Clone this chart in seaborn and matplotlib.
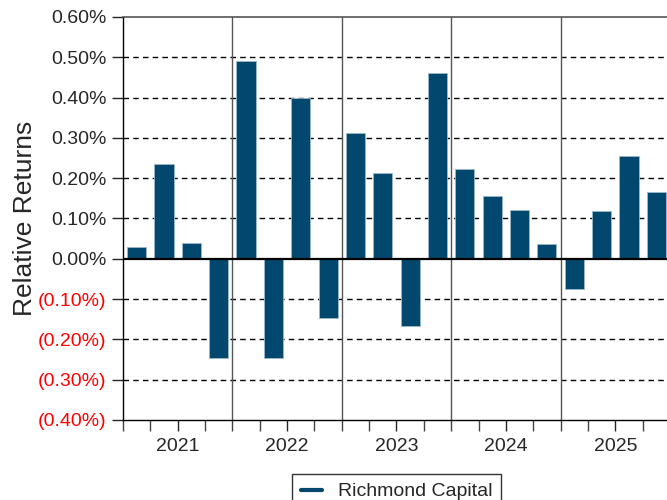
import numpy as np
import pandas as pd
import matplotlib
matplotlib.use("Agg")
import matplotlib.pyplot as plt
from matplotlib.lines import Line2D
from matplotlib.ticker import FuncFormatter
import seaborn as sns

years = ["2021", "2022", "2023", "2024", "2025"]
quarters = ["Q1", "Q2", "Q3", "Q4"]
returns_pct = [
    0.030, 0.235, 0.038, -0.245,
    0.492, -0.246, 0.400, -0.146,
    0.312, 0.213, -0.166, 0.461,
    0.223, 0.155, 0.122, 0.037,
    -0.074, 0.118, 0.255, 0.165,
]
series_name = "Richmond Capital"
bar_color = "#02476d"

periods = [f"{y} {q}" for y in years for q in quarters]
df = pd.DataFrame({"period": periods, "ret": returns_pct})

sns.set_style("ticks")
plt.rcParams["font.family"] = ["Liberation Sans", "DejaVu Sans"]

fig = plt.figure(figsize=(6.67, 5.0), dpi=100)
ax = fig.add_axes([0.1844, 0.16, 0.8201, 0.806])

sns.barplot(data=df, x="period", y="ret", order=periods, color=bar_color,
            saturation=1, width=0.7, edgecolor="#9db8cc", linewidth=0.6, ax=ax, zorder=3)

n = len(periods)
ax.set_xlim(-0.5, n - 0.5)
ax.set_ylim(-0.4, 0.6)

# grid + zero line
yt = np.round(np.arange(-0.4, 0.61, 0.1), 2)
ax.set_yticks(yt)
for v in yt:
    if abs(v) < 1e-9 or v in (-0.4, 0.6):
        continue
    ax.axhline(v, color="black", lw=1.0, ls=(0, (4, 3)), zorder=1)
ax.axhline(0, color="black", lw=1.6, zorder=4)

# year separators
for k in range(1, len(years)):
    ax.axvline(4 * k - 0.5, color="#555555", lw=1.0, zorder=2)

def fmt(v, _):
    if v < -1e-6:
        return f"({abs(v):.2f}%)"
    return f"{abs(v):.2f}%" if abs(v) < 1e-6 else f"{v:.2f}%"

ax.yaxis.set_major_formatter(FuncFormatter(fmt))
ax.tick_params(axis="y", labelsize=14, length=8, width=1, direction="out", pad=4)
for lab, v in zip(ax.get_yticklabels(), yt):
    if v < -1e-6:
        lab.set_color("#ff0000")

# x ticks: year labels at centres, ticks at every quarter boundary
ax.set_xticks([4 * i + 1.5 for i in range(len(years))])
ax.set_xticklabels(years)
ax.set_xticks(np.arange(-0.5, n, 1.0), minor=True)
ax.tick_params(axis="x", which="both", length=8, width=1, direction="out", labelsize=14, pad=5)
ax.tick_params(axis="x", which="minor", color="#444444")

ax.set_xlabel("")
ax.set_ylabel("Relative Returns", fontsize=19)
ax.yaxis.set_label_coords(-0.158, 0.5)

for s in ["left", "bottom"]:
    ax.spines[s].set_color("black")
    ax.spines[s].set_linewidth(1.0)
ax.spines["top"].set_color("#555555")
ax.spines["top"].set_linewidth(1.2)
ax.spines["right"].set_visible(False)

handle = Line2D([0], [0], color=bar_color, lw=3)
leg = ax.legend([handle], [series_name], loc="upper center", bbox_to_anchor=(0.5, -0.11),
                frameon=True, fancybox=False, edgecolor="black", fontsize=14,
                handlelength=1.1, borderpad=0.45)
leg.get_frame().set_linewidth(1.0)

fig.savefig("out.png", dpi=100)
